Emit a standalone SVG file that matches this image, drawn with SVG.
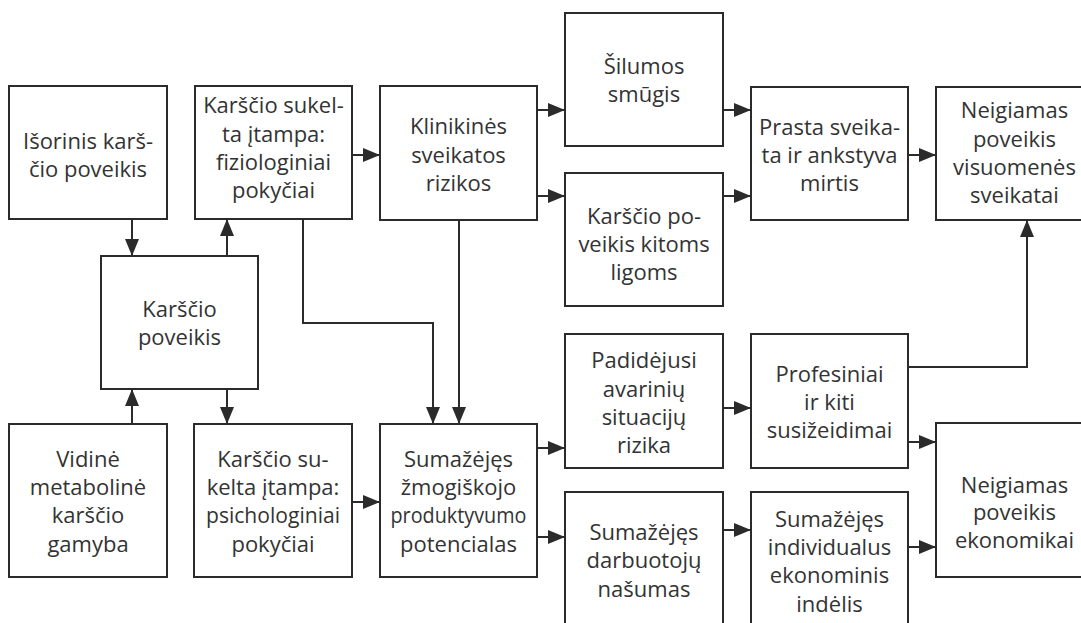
<svg xmlns="http://www.w3.org/2000/svg" width="1081" height="623" viewBox="0 0 1081 623">
<defs>
<marker id="ah" markerUnits="userSpaceOnUse" markerWidth="18" markerHeight="14" refX="17" refY="7" orient="auto">
<path d="M0,0 L17,7 L0,14 z" fill="#2b2b2b"/>
</marker>
<style>
.box{fill:#fff;stroke:#2b2b2b;stroke-width:2}
.t{font-family:"Open Sans","Liberation Sans",sans-serif;font-size:22px;fill:#333;text-anchor:middle}
.c{fill:none;stroke:#2b2b2b;stroke-width:2;marker-end:url(#ah)}
</style>
</defs>
<rect width="1081" height="623" fill="#fff"/>
<g id="connectors">
<line class="c" x1="132" y1="219" x2="132" y2="256"/>
<line class="c" x1="227" y1="256" x2="227" y2="219"/>
<line class="c" x1="132" y1="424" x2="132" y2="389"/>
<line class="c" x1="227" y1="389" x2="227" y2="424"/>
<line class="c" x1="352" y1="155" x2="380" y2="155"/>
<polyline class="c" points="303,219 303,323 433,323 433,424"/>
<line class="c" x1="459" y1="220" x2="459" y2="424"/>
<line class="c" x1="352" y1="502" x2="380" y2="502"/>
<line class="c" x1="537" y1="110" x2="565" y2="110"/>
<line class="c" x1="537" y1="196" x2="565" y2="196"/>
<line class="c" x1="723" y1="110" x2="751" y2="110"/>
<line class="c" x1="723" y1="196" x2="751" y2="196"/>
<line class="c" x1="908" y1="155" x2="936" y2="155"/>
<line class="c" x1="537" y1="448" x2="565" y2="448"/>
<line class="c" x1="537" y1="537" x2="565" y2="537"/>
<line class="c" x1="723" y1="408" x2="751" y2="408"/>
<line class="c" x1="723" y1="530" x2="751" y2="530"/>
<line class="c" x1="908" y1="442" x2="936" y2="442"/>
<line class="c" x1="908" y1="547" x2="936" y2="547"/>
<polyline class="c" points="908,367 1027,367 1027,220"/>
</g>
<g id="n-isorinis">
<rect class="box" x="9" y="86" width="158" height="133"/>
<text class="t" x="88" y="149">Išorinis karš-</text>
<text class="t" x="88" y="177">čio poveikis</text>
</g>
<g id="n-fiziologiniai">
<rect class="box" x="195" y="86" width="157" height="133"/>
<text class="t" x="273.5" y="113">Karščio sukel-</text>
<text class="t" x="273.5" y="142">ta įtampa:</text>
<text class="t" x="273.5" y="170">fiziologiniai</text>
<text class="t" x="273.5" y="198">pokyčiai</text>
</g>
<g id="n-karscio-poveikis">
<rect class="box" x="101" y="256" width="157" height="133"/>
<text class="t" x="179.5" y="317">Karščio</text>
<text class="t" x="179.5" y="345">poveikis</text>
</g>
<g id="n-vidine">
<rect class="box" x="9" y="424" width="158" height="153"/>
<text class="t" x="88" y="467">Vidinė</text>
<text class="t" x="88" y="495">metabolinė</text>
<text class="t" x="88" y="523">karščio</text>
<text class="t" x="88" y="552">gamyba</text>
</g>
<g id="n-psichologiniai">
<rect class="box" x="194" y="424" width="158" height="153"/>
<text class="t" x="273" y="467">Karščio su-</text>
<text class="t" x="273" y="495">kelta įtampa:</text>
<text class="t" x="273" y="523" textLength="134" lengthAdjust="spacingAndGlyphs">psichologiniai</text>
<text class="t" x="273" y="552">pokyčiai</text>
</g>
<g id="n-klinikines">
<rect class="box" x="380" y="86" width="157" height="134"/>
<text class="t" x="458.5" y="134">Klinikinės</text>
<text class="t" x="458.5" y="162.5">sveikatos</text>
<text class="t" x="458.5" y="191">rizikos</text>
</g>
<g id="n-zmogiskojo">
<rect class="box" x="380" y="424" width="157" height="153"/>
<text class="t" x="458.5" y="467">Sumažėjęs</text>
<text class="t" x="458.5" y="495">žmogiškojo</text>
<text class="t" x="458.5" y="523" textLength="136" lengthAdjust="spacingAndGlyphs">produktyvumo</text>
<text class="t" x="458.5" y="552">potencialas</text>
</g>
<g id="n-silumos">
<rect class="box" x="565" y="13" width="158" height="133"/>
<text class="t" x="644" y="74">Šilumos</text>
<text class="t" x="644" y="102">smūgis</text>
</g>
<g id="n-kitoms">
<rect class="box" x="565" y="173" width="158" height="133"/>
<text class="t" x="644" y="224">Karščio po-</text>
<text class="t" x="644" y="252">veikis kitoms</text>
<text class="t" x="644" y="280">ligoms</text>
</g>
<g id="n-padidejusi">
<rect class="box" x="565" y="334" width="158" height="134"/>
<text class="t" x="644" y="368">Padidėjusi</text>
<text class="t" x="644" y="397">avarinių</text>
<text class="t" x="644" y="425">situacijų</text>
<text class="t" x="644" y="453">rizika</text>
</g>
<g id="n-darbuotoju">
<rect class="box" x="565" y="492" width="158" height="134"/>
<text class="t" x="644" y="540">Sumažėjęs</text>
<text class="t" x="644" y="568">darbuotojų</text>
<text class="t" x="644" y="597">našumas</text>
</g>
<g id="n-prasta">
<rect class="box" x="751" y="87" width="157" height="133"/>
<text class="t" x="829.5" y="135">Prasta sveika-</text>
<text class="t" x="829.5" y="163">ta ir ankstyva</text>
<text class="t" x="829.5" y="191">mirtis</text>
</g>
<g id="n-profesiniai">
<rect class="box" x="751" y="334" width="157" height="134"/>
<text class="t" x="829.5" y="382">Profesiniai</text>
<text class="t" x="829.5" y="410">ir kiti</text>
<text class="t" x="829.5" y="438">susižeidimai</text>
</g>
<g id="n-individualus">
<rect class="box" x="751" y="492" width="157" height="134"/>
<text class="t" x="829.5" y="527">Sumažėjęs</text>
<text class="t" x="829.5" y="555">individualus</text>
<text class="t" x="829.5" y="583">ekonominis</text>
<text class="t" x="829.5" y="612">indėlis</text>
</g>
<g id="n-visuomenes">
<rect class="box" x="936" y="87" width="157" height="133"/>
<text class="t" x="1014.5" y="118">Neigiamas</text>
<text class="t" x="1014.5" y="147">poveikis</text>
<text class="t" x="1014.5" y="175">visuomenės</text>
<text class="t" x="1014.5" y="203">sveikatai</text>
</g>
<g id="n-ekonomikai">
<rect class="box" x="936" y="423" width="157" height="154"/>
<text class="t" x="1014.5" y="493">Neigiamas</text>
<text class="t" x="1014.5" y="520">poveikis</text>
<text class="t" x="1014.5" y="548">ekonomikai</text>
</g>
</svg>
